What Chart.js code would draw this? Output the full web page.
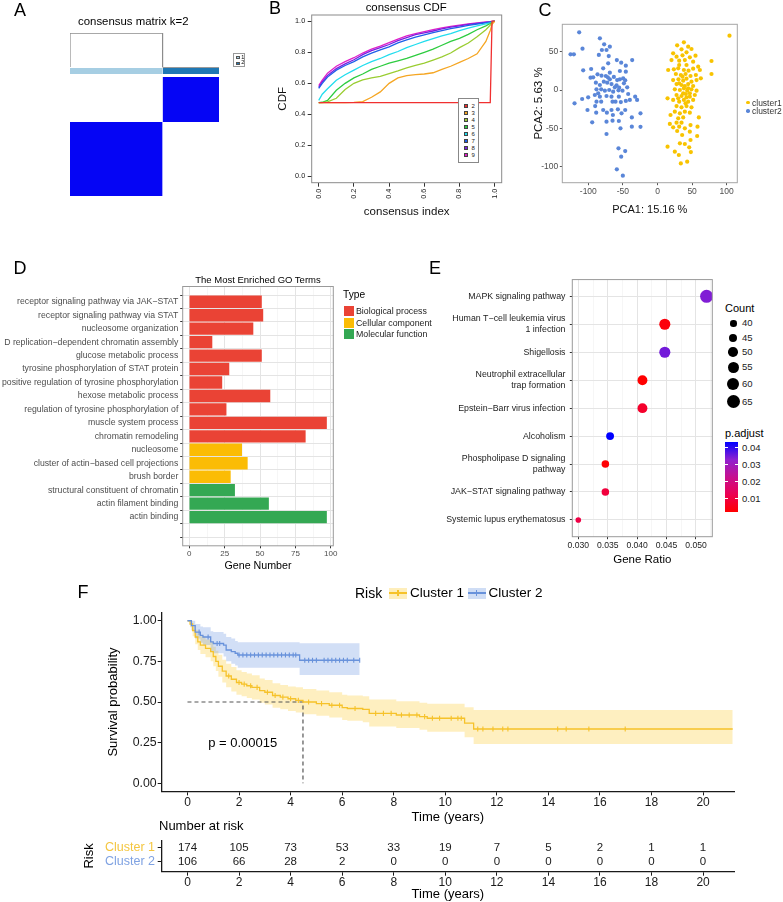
<!DOCTYPE html>
<html>
<head>
<meta charset="utf-8">
<script src="https://cdn.jsdelivr.net/npm/chart.js@4.4.1/dist/chart.umd.min.js"></script>
<style>
  html, body { margin: 0; padding: 0; background: #fff; }
  body { width: 783px; height: 902px; position: relative; overflow: hidden;
         font-family: "Liberation Sans", Arial, Helvetica, sans-serif; color: #000; }
  canvas { position: absolute; }
  .t { position: absolute; white-space: nowrap; line-height: 1; }
  .box { position: absolute; box-sizing: border-box; }
</style>
</head>
<body>
<script>
// ---------- data ----------
// A: consensus clusters (sample counts)
const consensusSizes = [174, 106];
const consensusLabels = ['1', '2'];

// B: consensus CDF per k
const cdfK = [2, 3, 4, 5, 6, 7, 8, 9];
const cdfIndex = [0, 0.02, 0.05, 0.1, 0.15, 0.2, 0.25, 0.3, 0.35, 0.4, 0.45, 0.5, 0.55, 0.6, 0.65, 0.7, 0.75, 0.8, 0.85, 0.9, 0.95, 0.975, 0.985, 1];
const cdfK2 = [0.476, 0.476, 0.476, 0.476, 0.476, 0.476, 0.476, 0.476, 0.476, 0.476, 0.476, 0.476, 0.476, 0.476, 0.476, 0.476, 0.476, 0.476, 0.476, 0.476, 0.476, 0.476, 1, 1];
const cdfK3 = [0.476, 0.476, 0.476, 0.476, 0.476, 0.477, 0.482, 0.51, 0.545, 0.6, 0.635, 0.65, 0.656, 0.66, 0.668, 0.69, 0.71, 0.735, 0.76, 0.79, 0.87, 0.94, 0.98, 1];
const cdfK4 = [0.476, 0.476, 0.48, 0.504, 0.56, 0.6, 0.622, 0.635, 0.645, 0.663, 0.68, 0.7, 0.715, 0.73, 0.75, 0.77, 0.795, 0.83, 0.86, 0.9, 0.945, 0.975, 0.99, 1];
const cdfK5 = [0.476, 0.478, 0.49, 0.555, 0.6, 0.635, 0.66, 0.69, 0.71, 0.73, 0.745, 0.76, 0.78, 0.8, 0.82, 0.845, 0.87, 0.89, 0.915, 0.945, 0.97, 0.985, 0.992, 1];
const cdfK6 = [0.49, 0.53, 0.565, 0.62, 0.655, 0.685, 0.715, 0.74, 0.76, 0.785, 0.805, 0.83, 0.85, 0.87, 0.888, 0.905, 0.92, 0.94, 0.955, 0.97, 0.983, 0.99, 0.994, 1];
const cdfK7 = [0.568, 0.6, 0.64, 0.685, 0.715, 0.74, 0.77, 0.795, 0.815, 0.835, 0.86, 0.88, 0.898, 0.912, 0.926, 0.94, 0.952, 0.962, 0.973, 0.982, 0.99, 0.995, 0.997, 1];
const cdfK8 = [0.574, 0.61, 0.65, 0.695, 0.725, 0.752, 0.785, 0.81, 0.83, 0.85, 0.875, 0.895, 0.913, 0.925, 0.937, 0.95, 0.962, 0.97, 0.979, 0.986, 0.993, 0.996, 0.998, 1];
const cdfK9 = [0.585, 0.62, 0.665, 0.71, 0.74, 0.765, 0.795, 0.82, 0.84, 0.862, 0.885, 0.905, 0.92, 0.933, 0.946, 0.957, 0.967, 0.975, 0.982, 0.989, 0.995, 0.997, 0.999, 1];
const cdfTicks = [0, 0.2, 0.4, 0.6, 0.8, 1];

// C: PCA scores
const pcaC1X = [38.1, 28.4, 44.3, 34.7, 49.1, 22.6, 41.9, 27.5, 36.1, 46.7, 54.9, 20.2, 31.3, 39.5, 51.5, 58.8, 15.4, 23.6, 29.9, 38.1, 44.8, 51.5, 61.2, 26.5, 33.7, 40.5, 47.7, 55.4, 62.6, 22.6, 30.3, 37.1, 41.9, 49.1, 56.4, 27.5, 34.7, 39.5, 44.3, 51.5, 25, 32.3, 38.1, 42.9, 49.1, 56.4, 14.5, 27.5, 34.7, 40.9, 46.7, 53.9, 22.6, 31.3, 38.1, 44.3, 51.5, 27.5, 34.7, 41.9, 49.1, 25, 32.3, 39.5, 46.7, 29.9, 37.1, 59.7, 18.8, 17.8, 27.5, 34.7, 47.7, 22.6, 31.3, 39.5, 28.4, 46.7, 57.8, 35.6, 57.3, 14.5, 32.3, 39.5, 47.7, 45.8, 25, 48.2, 30.8, 33.7, 42.9, 104, 78, 78, 31.3, 41.9, 36.1, 44.3, 37.1, 29.9, 41.9, 31.3, 46.7, 40.5];
const pcaC1Y = [62.2, 58.3, 56.5, 53, 53.5, 47.8, 49.1, 43.5, 45.2, 42.6, 44.8, 39.1, 38.3, 39.1, 37, 30.4, 26.1, 27, 28.3, 26.1, 25.2, 27.8, 26.1, 20.9, 19.6, 20.9, 18.3, 19.6, 15.2, 13, 13.9, 12.2, 14.8, 10.9, 13, 7.8, 6.5, 5.2, 7.8, 5.2, 0.9, 0, 2.2, -0.9, 0.9, -0.9, -10.9, -6.5, -7.8, -5.2, -8.7, -6.5, -13, -15.2, -13, -15.2, -13, -20.9, -22.6, -20.9, -22.6, -28.3, -30.4, -28.3, -29.6, -37, -35.7, -35.7, -32.6, -44.3, -42.6, -42.6, -45.7, -48.7, -47.8, -50, -53.5, -54.3, -47.8, -58.7, -60, -73.9, -69.6, -70.4, -65.2, -74.8, -80.4, -80.9, -84.8, -95.7, -93.5, 70.9, 37.8, 20.9, 32.6, 32.6, 17.4, 2.2, -4.3, -10.9, -9.6, 8.7, -4.3, -17.4];
const pcaC2X = [-113.2, -125.7, -120.9, -108.4, -83.3, -107.4, -95.9, -77.1, -80.4, -73.7, -68.9, -84.8, -70.5, -58.8, -52.5, -36.6, -45.8, -96.8, -93, -86.7, -80.9, -74.7, -71.8, -68.9, -63.1, -58.3, -54.4, -49.6, -46.7, -48.6, -89.1, -83.3, -77.6, -72.7, -66.5, -59.2, -55.4, -43.8, -88.2, -81.4, -76.1, -69.8, -64.1, -56.4, -50.6, -42.4, -100.2, -108.9, -90.6, -83.3, -73.7, -66.5, -55.9, -32.3, -29.5, -119.9, -88.2, -90.1, -81.4, -65, -60.7, -53, -45.8, -40, -101.2, -78.5, -66.5, -57.3, -46.7, -24.6, -88.6, -73.2, -64.5, -52, -94.4, -73.7, -65, -55.9, -37.1, -53.5, -37.1, -24.6, -73.7, -56.4, -46.7, -52.5, -58.8, -50.1, -78.5, -71.3, -54.4, -61.7, -45.8, -68.9, -85.7];
const pcaC2Y = [75.2, 46.5, 46.5, 53.9, 67.4, 25.7, 27.4, 59.6, 52.2, 52.2, 56.5, 45.7, 44.3, 39.1, 35.7, 39.1, 31.7, 16.1, 16.5, 20.4, 18.7, 18.3, 16.5, 13.9, 17, 13, 13.9, 15.2, 12.6, 8.7, 9.6, 6.5, 10.9, 9.6, 7.8, 6.1, 3, 3.5, 0.9, 0.9, -0.9, 0, -2.2, -0.4, -0.9, -5.2, -9.6, -11.7, -6.5, -8.7, -7.8, -8.7, -8.7, -8.7, -13, -17.4, -15.2, -20.9, -15.2, -15.2, -15.2, -15.7, -14.3, -13, -26.1, -26.1, -26.1, -25.2, -26.1, -30.4, -29.6, -29.6, -32.6, -30.4, -42.2, -41.3, -40, -40.4, -35.7, -50, -47.8, -48, -57.4, -76.1, -79.6, -87, -103.5, -111.7, 28.3, 34.8, 24.8, 3.5, 23.9, 22.6, -4.3];
const pcaXTicks = [-100, -50, 0, 50, 100];
const pcaYTicks = [-100, -50, 0, 50];

// D: GO enrichment
const goTerms = [
  'receptor signaling pathway via JAK\u2212STAT',
  'receptor signaling pathway via STAT',
  'nucleosome organization',
  'D replication\u2212dependent chromatin assembly',
  'glucose metabolic process',
  'tyrosine phosphorylation of STAT protein',
  'positive regulation of tyrosine phosphorylation',
  'hexose metabolic process',
  'regulation of tyrosine phosphorylation of',
  'muscle system process',
  'chromatin remodeling',
  'nucleosome',
  'cluster of actin\u2212based cell projections',
  'brush border',
  'structural constituent of chromatin',
  'actin filament binding',
  'actin binding',
  ''
];
const goCounts = [51, 52, 45, 16, 51, 28, 23, 57, 26, 97, 82, 37, 41, 29, 32, 56, 97];
const goTypes = ['Biological process', 'Biological process', 'Biological process', 'Biological process',
  'Biological process', 'Biological process', 'Biological process', 'Biological process',
  'Biological process', 'Biological process', 'Biological process',
  'Cellular component', 'Cellular component', 'Cellular component',
  'Molecular function', 'Molecular function', 'Molecular function'];
const goTypeNames = ['Biological process', 'Cellular component', 'Molecular function'];
const goTicks = [0, 25, 50, 75, 100];

// E: KEGG dot plot
const keggTerms = [
  'MAPK signaling pathway',
  ['Human T\u2212cell leukemia virus', '1 infection'],
  'Shigellosis',
  ['Neutrophil extracellular', 'trap formation'],
  'Epstein\u2212Barr virus infection',
  'Alcoholism',
  ['Phospholipase D signaling', 'pathway'],
  'JAK\u2212STAT signaling pathway',
  'Systemic lupus erythematosus'
];
const keggRatio = [0.0518, 0.0447, 0.0447, 0.0409, 0.0409, 0.0354, 0.0346, 0.0346, 0.0300];
const keggCount = [65, 56, 56, 51, 51, 44, 43, 43, 38];
const keggPadj = [0.034, 0.004, 0.035, 0.0025, 0.008, 0.0432, 0.003, 0.010, 0.011];
const keggTicks = [0.030, 0.035, 0.040, 0.045, 0.050];
const countKeys = [40, 45, 50, 55, 60, 65];
const padjTicks = [0.01, 0.02, 0.03, 0.04];

// F: Kaplan-Meier by cluster
const km1Time  = [0, 0.1, 0.2, 0.3, 0.4, 0.5, 0.7, 0.9, 1.0, 1.1, 1.2, 1.35, 1.5, 1.7, 1.9, 2.1, 2.3, 2.5, 2.8, 3.0, 3.3, 3.6, 3.9, 4.2, 4.48, 5.0, 5.5, 6.0, 6.2, 6.8, 7.05, 8.1, 9.0, 9.3, 10.75, 11.1, 21.15];
const km1Surv  = [1, 0.98, 0.94, 0.90, 0.87, 0.85, 0.83, 0.81, 0.78, 0.75, 0.72, 0.69, 0.66, 0.64, 0.62, 0.61, 0.60, 0.59, 0.57, 0.56, 0.54, 0.53, 0.52, 0.51, 0.50, 0.49, 0.48, 0.465, 0.46, 0.455, 0.43, 0.42, 0.41, 0.40, 0.37, 0.334, 0.334];
const km1Upper = [1, 1, 0.975, 0.945, 0.92, 0.905, 0.885, 0.87, 0.84, 0.815, 0.79, 0.76, 0.735, 0.715, 0.695, 0.685, 0.675, 0.665, 0.645, 0.635, 0.615, 0.605, 0.595, 0.59, 0.58, 0.57, 0.56, 0.545, 0.54, 0.535, 0.515, 0.505, 0.495, 0.49, 0.467, 0.451, 0.451];
const km1Lower = [1, 0.96, 0.905, 0.855, 0.82, 0.795, 0.775, 0.75, 0.72, 0.69, 0.655, 0.62, 0.59, 0.565, 0.545, 0.535, 0.525, 0.515, 0.495, 0.485, 0.465, 0.455, 0.445, 0.435, 0.425, 0.415, 0.405, 0.39, 0.385, 0.375, 0.35, 0.34, 0.33, 0.317, 0.283, 0.242, 0.242];
const km2Time  = [0, 0.15, 0.3, 0.5, 0.6, 0.9, 1.0, 1.4, 1.5, 1.7, 1.85, 1.95, 4.35, 6.68];
const km2Surv  = [1, 0.97, 0.93, 0.91, 0.90, 0.87, 0.86, 0.85, 0.82, 0.81, 0.80, 0.789, 0.757, 0.757];
const km2Upper = [1, 1, 0.98, 0.965, 0.96, 0.935, 0.93, 0.92, 0.90, 0.89, 0.875, 0.867, 0.861, 0.861];
const km2Lower = [1, 0.94, 0.89, 0.865, 0.85, 0.81, 0.80, 0.78, 0.75, 0.735, 0.725, 0.711, 0.666, 0.666];
const km1Censor = [1.6, 2.0, 2.2, 2.45, 2.7, 3.1, 3.4, 3.7, 4.0, 4.3, 4.7, 5.2, 5.6, 5.9, 6.5, 7.3, 7.6, 7.9, 8.3, 8.6, 8.9, 9.2, 9.5, 9.78, 10.23, 10.49, 10.62, 11.26, 11.46, 11.85, 12.23, 12.43, 14.36, 14.69, 15.57, 16.98];
const km2Censor = [0.45, 0.8, 1.15, 1.25, 2.0, 2.15, 2.3, 2.45, 2.6, 2.75, 2.9, 3.05, 3.2, 3.35, 3.5, 3.65, 3.8, 3.95, 4.1, 4.2, 4.55, 4.7, 4.85, 5.0, 5.3, 5.45, 5.6, 5.75, 5.9, 6.05, 6.2, 6.45, 6.68];
const km1Median = 4.48;
const pValueText = 'p = 0.00015';
const timeTicks = [0, 2, 4, 6, 8, 10, 12, 14, 16, 18, 20];
const survTicks = [0, 0.25, 0.5, 0.75, 1];
const riskGroups = ['Cluster 1', 'Cluster 2'];
const riskCluster1 = [174, 105, 73, 53, 33, 19, 7, 5, 2, 1, 1];
const riskCluster2 = [106, 66, 28, 2, 0, 0, 0, 0, 0, 0, 0];

// ---------- helpers ----------
const FONT = '"Liberation Sans", Arial, Helvetica, sans-serif';
Chart.defaults.font.family = FONT;
Chart.defaults.animation = false;
Chart.defaults.plugins.legend.display = false;
Chart.defaults.plugins.tooltip.enabled = false;

// box round the plotting area (ggplot / base R panel border)
Chart.register({
  id: 'frame',
  afterDraw(chart, args, opts) {
    if (!opts || !opts.color) return;
    const { ctx, chartArea: a } = chart;
    ctx.save();
    ctx.strokeStyle = opts.color;
    ctx.lineWidth = opts.width || 1;
    ctx.strokeRect(a.left, a.top, a.right - a.left, a.bottom - a.top);
    ctx.restore();
  }
});

function makeCanvas(left, top, w, h) {
  const c = document.createElement('canvas');
  c.width = w; c.height = h;
  c.style.left = left + 'px'; c.style.top = top + 'px';
  c.style.width = w + 'px'; c.style.height = h + 'px';
  document.body.appendChild(c);
  return c;
}
function txt(text, x, y, size, opts = {}) {
  const d = document.createElement('div');
  d.className = 't';
  d.textContent = text;
  d.style.left = x + 'px'; d.style.top = y + 'px';
  d.style.fontSize = size + 'px';
  if (opts.color) d.style.color = opts.color;
  const ax = opts.align === 'left' ? '0' : opts.align === 'right' ? '-100%' : '-50%';
  d.style.transform = `translate(${ax}, -50%)`;
  document.body.appendChild(d);
  return d;
}
function box(x, y, w, h, css) {
  const d = document.createElement('div');
  d.className = 'box';
  Object.assign(d.style, { left: x + 'px', top: y + 'px', width: w + 'px', height: h + 'px' }, css);
  document.body.appendChild(d);
  return d;
}
const fixedTicks = values => scale => { scale.ticks = values.map(v => ({ value: v })); };
const fitW = w => s => { s.width = w; };
const fitH = h => s => { s.height = h; };
const pts = (xs, ys) => xs.map((x, i) => ({ x, y: ys[i] }));
const isMajor = (v, majors) => majors.some(m => Math.abs(m - v) < 1e-9);
const withMinors = majors => majors.flatMap((m, i) => i ? [(majors[i - 1] + m) / 2, m] : [m]);
const flat = { minRotation: 0, maxRotation: 0, autoSkip: false };
function survAt(times, surv, t) {
  let s = surv[0];
  for (let i = 0; i < times.length && times[i] <= t; i++) s = surv[i];
  return s;
}

// ---------- A: consensus matrix ----------
(function () {
  const [n1, n2] = consensusSizes;
  const n = n1 + n2;
  const stripLo = n * 1.025, stripHi = n * 1.075, dendLo = n * 1.084, dendHi = n * 1.368;
  const rect = (x0, x1, y0, y1, color) => ({
    data: [{ x: x0, y: y1 }, { x: x1, y: y1 }], fill: { value: y0 },
    backgroundColor: color, borderWidth: 0, pointRadius: 0
  });
  new Chart(makeCanvas(0, 0, 260, 215), {
    type: 'line',
    data: {
      datasets: [
        { data: [{ x: 0, y: dendLo }, { x: 0, y: dendHi }, { x: n1, y: dendHi }, { x: n1, y: dendLo }],
          borderColor: '#8c8c8c', borderWidth: 1.2, pointRadius: 0, fill: false },
        { data: [{ x: n1, y: n * 1.08 }, { x: n, y: n * 1.08 }], borderColor: '#9a9a9a', borderWidth: 1, pointRadius: 0, fill: false },
        rect(0, n1, stripLo, stripHi, '#A6CEE3'),
        rect(n1, n, stripLo, stripHi, '#1F78B4'),
        rect(n1, n, n1, n, '#0505F5'),
        rect(0, n1, 0, n1, '#0505F5')
      ]
    },
    options: {
      responsive: false,
      layout: { padding: { left: 70, right: 41, top: 33, bottom: 19 } },
      scales: {
        x: { type: 'linear', display: false, min: 0, max: n },
        y: { type: 'linear', display: false, min: 0, max: n * 1.37 }
      }
    }
  });
  txt('consensus matrix k=2', 133.3, 22.3, 11.4);
  box(233, 53, 12, 14, { border: '1px solid #999', background: '#fff' });
  box(235.5, 56, 4, 3, { background: '#A6CEE3', border: '0.5px solid #555' });
  box(235.5, 61.5, 4, 3, { background: '#1F78B4', border: '0.5px solid #555' });
  txt(consensusLabels[0], 241.2, 57.6, 5.5, { align: 'left' });
  txt(consensusLabels[1], 241.2, 63.1, 5.5, { align: 'left' });
})();

// ---------- B: consensus CDF ----------
(function () {
  const series = [cdfK2, cdfK3, cdfK4, cdfK5, cdfK6, cdfK7, cdfK8, cdfK9];
  const colors = ['#F03030', '#F5A623', '#9ACD32', '#2ECC40', '#22DDEE', '#1F5FE8', '#7A1FE0', '#E020C8'];
  new Chart(makeCanvas(250, 0, 270, 225), {
    type: 'line',
    data: {
      datasets: series.map((ys, i) => ({
        data: pts(cdfIndex, ys), borderColor: colors[i], borderWidth: 1.3, pointRadius: 0, fill: false
      }))
    },
    options: {
      responsive: false,
      layout: { padding: { left: 0, right: 18.3, top: 15, bottom: 0 } },
      scales: {
        x: {
          type: 'linear', min: -0.04, max: 1.04, bounds: 'data',
          afterBuildTicks: fixedTicks(cdfTicks), afterFit: fitH(42.3),
          ticks: { minRotation: 90, maxRotation: 90, autoSkip: false, padding: 2, font: { size: 7.3 }, color: '#222', callback: v => v.toFixed(1) },
          grid: { drawOnChartArea: false, tickLength: 4, color: '#333' },
          border: { display: false },
          title: { display: true, text: 'consensus index', font: { size: 11.5 }, color: '#111', padding: { top: 0, bottom: 6.4 } }
        },
        y: {
          type: 'linear', min: -0.04, max: 1.04, bounds: 'data',
          afterBuildTicks: fixedTicks(cdfTicks), afterFit: fitW(61.7),
          ticks: { padding: 2.5, font: { size: 7.3 }, color: '#222', callback: v => v.toFixed(1) },
          grid: { drawOnChartArea: false, tickLength: 4, color: '#333' },
          border: { display: false },
          title: { display: true, text: 'CDF', font: { size: 11.5 }, color: '#111', padding: { top: 25.7, bottom: 0 } }
        }
      },
      plugins: { frame: { color: '#8a8a8a', width: 1 } }
    }
  });
  txt('consensus CDF', 406.2, 8.3, 11.4);
  box(458, 98, 21, 65, { border: '1px solid #888', background: '#fff' });
  cdfK.forEach((k, i) => {
    const y = 106 + i * 7;
    box(464, y - 2, 4, 4, { background: colors[i], border: '0.5px solid #444' });
    txt(String(k), 471.5, y, 6, { align: 'left', color: '#222' });
  });
})();

// ---------- C: PCA ----------
(function () {
  const c1 = '#F8C300', c2 = '#5A86D8';
  new Chart(makeCanvas(520, 0, 225, 225), {
    type: 'scatter',
    data: {
      datasets: [
        { data: pts(pcaC1X, pcaC1Y), backgroundColor: c1, borderWidth: 0, pointRadius: 2.1 },
        { data: pts(pcaC2X, pcaC2Y), backgroundColor: c2, borderWidth: 0, pointRadius: 2.1 }
      ]
    },
    options: {
      responsive: false,
      layout: { padding: { left: 0, right: 7.7, top: 24.3, bottom: 0 } },
      scales: {
        x: {
          type: 'linear', min: -137.6, max: 115.3, bounds: 'data',
          afterBuildTicks: fixedTicks(pcaXTicks), afterFit: fitH(42.3),
          ticks: { ...flat, padding: 1.5, font: { size: 8.5 }, color: '#4d4d4d', callback: v => String(v) },
          grid: { drawOnChartArea: false, tickLength: 2.5, color: '#555' },
          border: { display: false },
          title: { display: true, text: 'PCA1: 15.16 %', font: { size: 11 }, color: '#111', padding: { top: 0, bottom: 8.7 } }
        },
        y: {
          type: 'linear', min: -120.9, max: 85.7, bounds: 'data',
          afterBuildTicks: fixedTicks(pcaYTicks), afterFit: fitW(42.3),
          ticks: { padding: 1.5, font: { size: 8.5 }, color: '#4d4d4d', callback: v => String(v) },
          grid: { drawOnChartArea: false, tickLength: 2.5, color: '#555' },
          border: { display: false },
          title: { display: true, text: 'PCA2: 5.63 %', font: { size: 11.5 }, color: '#111', padding: { top: 12, bottom: 0 } }
        }
      },
      plugins: { frame: { color: '#a6a6a6', width: 1 } }
    }
  });
  box(746.4, 100.7, 3.4, 3.4, { background: c1, borderRadius: '50%' });
  box(746.4, 109.3, 3.4, 3.4, { background: c2, borderRadius: '50%' });
  txt('cluster1', 752, 102.6, 8.5, { align: 'left', color: '#333' });
  txt('cluster2', 752, 111.2, 8.5, { align: 'left', color: '#333' });
})();

// ---------- D: GO terms ----------
(function () {
  const goColor = { 'Biological process': '#EA4335', 'Cellular component': '#FBBC05', 'Molecular function': '#34A853' };
  const xTicks = withMinors(goTicks);
  const yTicks = goTerms.map((t, i) => i + 1);
  new Chart(makeCanvas(0, 270, 340, 310), {
    type: 'bar',
    data: {
      datasets: [{
        data: goCounts.map((v, i) => ({ x: v, y: i + 1 })),
        backgroundColor: goTypes.map(t => goColor[t]),
        borderWidth: 0, barThickness: 11.7
      }]
    },
    options: {
      responsive: false,
      indexAxis: 'y',
      layout: { padding: { left: 0, right: 6.7, top: 16.5, bottom: 0 } },
      scales: {
        x: {
          type: 'linear', min: -4.7, max: 101.8, bounds: 'data',
          afterBuildTicks: fixedTicks(xTicks), afterFit: fitH(34.2),
          ticks: { ...flat, padding: 1, font: { size: 8 }, color: '#4d4d4d', callback: v => isMajor(v, goTicks) ? String(v) : '' },
          grid: {
            color: c => isMajor(c.tick.value, goTicks) ? '#e4e4e4' : '#f2f2f2',
            lineWidth: c => isMajor(c.tick.value, goTicks) ? 1 : 0.7,
            tickColor: c => isMajor(c.tick.value, goTicks) ? '#333' : 'rgba(0,0,0,0)',
            tickLength: 2.5
          },
          border: { display: false },
          title: { display: true, text: 'Gene Number', font: { size: 10.7 }, color: '#000', padding: { top: 0, bottom: 7.6 } }
        },
        y: {
          type: 'linear', reverse: true, min: 0.4, max: goTerms.length + 0.6, bounds: 'data',
          afterBuildTicks: fixedTicks(yTicks), afterFit: fitW(182.7),
          ticks: { autoSkip: false, padding: 1.9, font: { size: 8.7 }, color: '#4d4d4d', callback: v => goTerms[Math.round(v) - 1] },
          grid: { color: '#e4e4e4', tickColor: '#333', tickLength: 2.5 },
          border: { display: false }
        }
      },
      plugins: { frame: { color: '#9a9a9a', width: 1 } }
    }
  });
  txt('The Most Enriched GO Terms', 258, 279.5, 9.5);
  txt('Type', 343, 295, 10.2, { align: 'left' });
  goTypeNames.forEach((name, i) => {
    const y = 306 + i * 11.6;
    box(344, y, 9.5, 10, { background: goColor[name] });
    txt(name, 356, y + 5, 8.8, { align: 'left', color: '#222' });
  });
  txt('D', 20, 268, 18);
})();

// ---------- E: KEGG dot plot ----------
const padjMin = Math.min(...keggPadj), padjMax = Math.max(...keggPadj);
const padjStops = [[0, [255, 0, 0]], [0.25, [236, 0, 82]], [0.5, [198, 16, 144]], [0.75, [142, 32, 208]], [1, [0, 0, 255]]];
function padjColor(p) {
  const t = Math.max(0, Math.min(1, (p - padjMin) / (padjMax - padjMin)));
  for (let i = 1; i < padjStops.length; i++) {
    const [t1, c1] = padjStops[i];
    const [t0, c0] = padjStops[i - 1];
    if (t <= t1) {
      const f = (t - t0) / (t1 - t0);
      return `rgb(${c0.map((v, j) => Math.round(v + (c1[j] - v) * f)).join(',')})`;
    }
  }
  return 'rgb(0,0,255)';
}
const countRadius = c => Math.sqrt(7.84 + 1.274 * (c - 38));
(function () {
  const xTicks = withMinors(keggTicks).concat([keggTicks[keggTicks.length - 1] + 0.0025]);
  const yTicks = keggTerms.map((t, i) => i + 1);
  new Chart(makeCanvas(446, 270, 276, 310), {
    type: 'bubble',
    data: {
      datasets: [{
        data: keggRatio.map((x, i) => ({ x, y: i + 1, r: countRadius(keggCount[i]) })),
        backgroundColor: keggPadj.map(padjColor), borderWidth: 0
      }]
    },
    options: {
      responsive: false,
      layout: { padding: { left: 0, right: 9.7, top: 9.2, bottom: 0 } },
      scales: {
        x: {
          type: 'linear', min: 0.02898, max: 0.05277, bounds: 'data',
          afterBuildTicks: fixedTicks(xTicks), afterFit: fitH(43.3),
          ticks: { ...flat, padding: 1.5, font: { size: 8.6 }, color: '#222', callback: v => isMajor(v, keggTicks) ? v.toFixed(3) : '' },
          grid: {
            color: c => isMajor(c.tick.value, keggTicks) ? '#e4e4e4' : '#f2f2f2',
            lineWidth: c => isMajor(c.tick.value, keggTicks) ? 1 : 0.7,
            tickColor: c => isMajor(c.tick.value, keggTicks) ? '#333' : 'rgba(0,0,0,0)',
            tickLength: 2.5
          },
          border: { display: false },
          title: { display: true, text: 'Gene Ratio', font: { size: 11.5 }, color: '#000', padding: { top: 0, bottom: 13.1 } }
        },
        y: {
          type: 'linear', reverse: true, min: 0.4, max: keggTerms.length + 0.6, bounds: 'data',
          afterBuildTicks: fixedTicks(yTicks), afterFit: fitW(126.3),
          ticks: { autoSkip: false, padding: 4.3, font: { size: 8.8 }, color: '#222', callback: v => keggTerms[Math.round(v) - 1] },
          grid: { color: '#e4e4e4', tickColor: '#333', tickLength: 2.5 },
          border: { display: false }
        }
      },
      plugins: { frame: { color: '#9a9a9a', width: 1 } }
    }
  });
  txt('E', 435, 268.3, 18);
  // size legend
  txt('Count', 725, 308.3, 11, { align: 'left' });
  const keyY = [323.3, 337.7, 352, 367.3, 383.7, 401.7];
  countKeys.forEach((c, i) => {
    const r = countRadius(c);
    box(733.3 - r, keyY[i] - r, 2 * r, 2 * r, { background: '#000', borderRadius: '50%' });
    txt(String(c), 742, keyY[i], 9.5, { align: 'left', color: '#222' });
  });
  // colour bar legend
  txt('p.adjust', 725, 432.7, 11, { align: 'left' });
  const barTop = 442.3, barH = 69.4;
  const grad = padjStops.slice().reverse().map(([t, c]) => `rgb(${c.join(',')}) ${((1 - t) * 100).toFixed(0)}%`).join(', ');
  box(725, barTop, 12.7, barH, { background: `linear-gradient(to bottom, ${grad})` });
  padjTicks.forEach(p => {
    const y = barTop + (padjMax - p) / (padjMax - padjMin) * barH;
    box(725, y - 0.5, 2.5, 1, { background: '#fff' });
    box(735.2, y - 0.5, 2.5, 1, { background: '#fff' });
    txt(p.toFixed(2), 742, y, 9.5, { align: 'left', color: '#222' });
  });
})();

// ---------- F: survival ----------
(function () {
  const yLine = '#F6C22A', bLine = '#6892DB';
  const yBand = 'rgba(251,206,60,0.32)', bBand = 'rgba(105,150,225,0.3)';
  const band = (xs, ys, color, fill) => ({
    data: pts(xs, ys), stepped: true, borderWidth: 0, pointRadius: 0,
    backgroundColor: color, fill
  });
  const censor = (times, tt, ss, color) => ({
    data: times.map(t => ({ x: t, y: survAt(tt, ss, t) })), showLine: false,
    pointStyle: 'line', rotation: 90, pointRadius: 2.6, pointBorderWidth: 1.1,
    pointBorderColor: color, borderColor: color
  });
  new Chart(makeCanvas(60, 600, 690, 228), {
    type: 'line',
    data: {
      datasets: [
        { data: pts(km2Time, km2Surv), stepped: true, borderColor: bLine, borderWidth: 1.3, pointRadius: 0, fill: false },
        censor(km2Censor, km2Time, km2Surv, bLine),
        { data: pts(km1Time, km1Surv), stepped: true, borderColor: yLine, borderWidth: 1.3, pointRadius: 0, fill: false },
        censor(km1Censor, km1Time, km1Surv, yLine),
        { data: [{ x: 0, y: 0.5 }, { x: km1Median, y: 0.5 }, { x: km1Median, y: 0 }],
          borderColor: '#555', borderWidth: 1.2, borderDash: [4, 3], pointRadius: 0, fill: false },
        band(km2Time, km2Upper, bBand, '+1'),
        band(km2Time, km2Lower, bBand, false),
        band(km1Time, km1Upper, yBand, '+1'),
        band(km1Time, km1Lower, yBand, false)
      ]
    },
    options: {
      responsive: false,
      layout: { padding: { left: 0, right: 16, top: 12.6, bottom: 0 } },
      scales: {
        x: {
          type: 'linear', min: -1, max: 21.2, bounds: 'data',
          afterBuildTicks: fixedTicks(timeTicks), afterFit: fitH(36.6),
          ticks: { ...flat, padding: 0, font: { size: 12 }, color: '#1a1a1a', callback: v => String(v) },
          grid: { drawOnChartArea: false, tickLength: 4, color: '#1a1a1a' },
          border: { display: true, color: '#1a1a1a', width: 1.3 },
          title: { display: true, text: 'Time (years)', font: { size: 13 }, color: '#000', padding: { top: 0, bottom: 2.7 } }
        },
        y: {
          type: 'linear', min: -0.05, max: 1.05, bounds: 'data',
          afterBuildTicks: fixedTicks(survTicks), afterFit: fitW(101.7),
          ticks: { padding: 1, font: { size: 12.3 }, color: '#1a1a1a', callback: v => v.toFixed(2) },
          grid: { drawOnChartArea: false, tickLength: 4, color: '#1a1a1a' },
          border: { display: true, color: '#1a1a1a', width: 1.3 },
          title: { display: true, text: 'Survival probability', font: { size: 13 }, color: '#000', padding: { top: 45.2, bottom: 0 } }
        }
      }
    }
  });
  txt(pValueText, 242.7, 741.7, 13);
  txt('F', 83, 592, 18);

  // legend
  txt('Risk', 355, 593, 14, { align: 'left' });
  [[389, riskGroups[0], yLine, 'rgba(251,206,60,0.35)'], [467.5, riskGroups[1], bLine, 'rgba(105,150,225,0.32)']].forEach(([x, name, line, fill]) => {
    box(x, 587.5, 18, 11, { background: fill });
    box(x, 592.4, 18, 1.4, { background: line });
    box(x + 8.4, 590, 1.2, 6, { background: line });
    txt(name, x + 21, 593, 13.5, { align: 'left' });
  });

  // number at risk table
  const riskColors = ['#F4C640', '#7FA2E2'];
  const rows = [riskCluster1, riskCluster2];
  new Chart(makeCanvas(60, 830, 690, 72), {
    type: 'scatter',
    data: { datasets: [{ data: [] }] },
    options: {
      responsive: false,
      layout: { padding: { left: 0, right: 16, top: 8.5, bottom: 0 } },
      scales: {
        x: {
          type: 'linear', min: -1, max: 21.2, bounds: 'data',
          afterBuildTicks: fixedTicks(timeTicks), afterFit: fitH(30.3),
          ticks: { ...flat, padding: 0, font: { size: 12 }, color: '#1a1a1a', callback: v => String(v) },
          grid: { drawOnChartArea: false, tickLength: 4, color: '#1a1a1a' },
          border: { display: true, color: '#1a1a1a', width: 1.3 },
          title: { display: true, text: 'Time (years)', font: { size: 13 }, color: '#000', padding: { top: 0, bottom: 0 } }
        },
        y: {
          type: 'linear', reverse: true, min: 0.45, max: 2.7, bounds: 'data',
          afterBuildTicks: fixedTicks([1, 2]), afterFit: fitW(101.7),
          ticks: { padding: 2.7, font: { size: 12.5 }, color: c => riskColors[c.index], callback: v => riskGroups[Math.round(v) - 1] },
          grid: { drawOnChartArea: false, tickLength: 4, color: '#1a1a1a' },
          border: { display: true, color: '#1a1a1a', width: 1.3 },
          title: { display: true, text: 'Risk', font: { size: 13 }, color: '#000', padding: { top: 21.2, bottom: 0 } }
        }
      }
    },
    plugins: [{
      id: 'riskNumbers',
      afterDatasetsDraw(chart) {
        const { ctx, scales: { x, y } } = chart;
        ctx.save();
        ctx.font = `11.5px ${FONT}`;
        ctx.fillStyle = '#1a1a1a';
        ctx.textAlign = 'center';
        ctx.textBaseline = 'middle';
        rows.forEach((row, r) => row.forEach((nAtRisk, i) => {
          ctx.fillText(String(nAtRisk), x.getPixelForValue(timeTicks[i]), y.getPixelForValue(r + 1));
        }));
        ctx.restore();
      }
    }]
  });
  txt('Number at risk', 159, 825, 13, { align: 'left' });
})();

// panel letters
txt('A', 20, 10, 18);
txt('B', 275, 8.3, 18);
txt('C', 545, 10, 18);
</script>
</body>
</html>
